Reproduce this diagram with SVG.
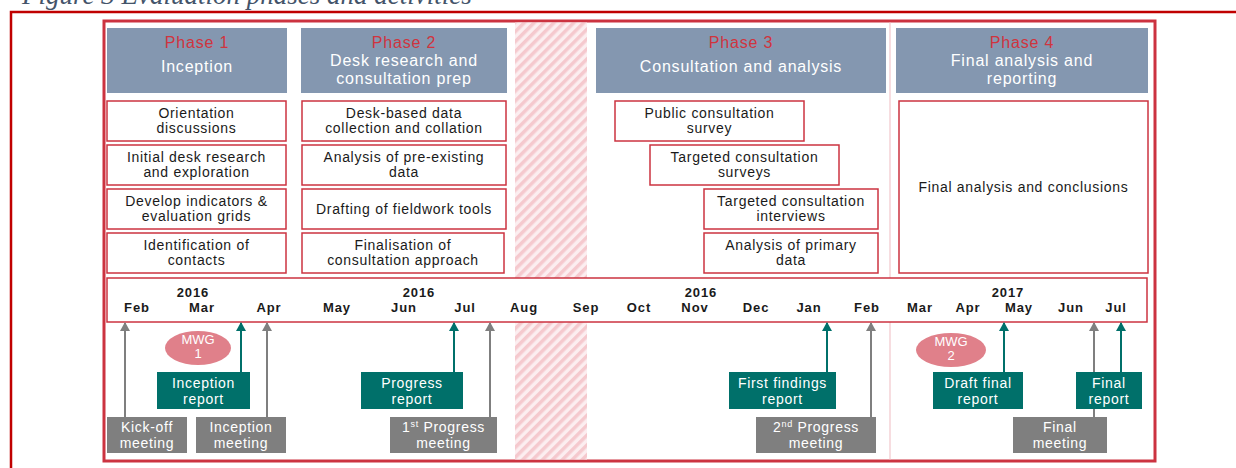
<svg xmlns="http://www.w3.org/2000/svg" width="1236" height="468" viewBox="0 0 1236 468">
<defs>
<pattern id="hatch" patternUnits="userSpaceOnUse" width="7" height="7" patternTransform="rotate(45)">
<rect width="7" height="7" fill="#FCEEF0"/>
<rect width="3.5" height="7" fill="#F5C9CE"/>
</pattern>
<marker id="ahGray" markerWidth="9" markerHeight="10" refX="8" refY="5" orient="auto" markerUnits="userSpaceOnUse" viewBox="0 0 9 10">
<path d="M0,0 L9,5 L0,10 Z" fill="#7F7F7F"/>
</marker>
<marker id="ahTeal" markerWidth="9" markerHeight="10" refX="8" refY="5" orient="auto" markerUnits="userSpaceOnUse" viewBox="0 0 9 10">
<path d="M0,0 L9,5 L0,10 Z" fill="#00706A"/>
</marker>
</defs>
<style>
.title{font-family:"Liberation Serif",serif;font-style:italic;font-size:27px;fill:#44546A}
.ph{fill:#8497B0}
.phn{font-family:"Liberation Sans",Arial,sans-serif;font-size:16px;fill:#D0343E;text-anchor:middle;letter-spacing:0.8px}
.pht{font-family:"Liberation Sans",Arial,sans-serif;font-size:16px;fill:#FFFFFF;text-anchor:middle;letter-spacing:0.8px}
.act{fill:#FFFFFF;stroke:#CC3340;stroke-width:1.5}
.at{font-family:"Liberation Sans",Arial,sans-serif;font-size:14px;fill:#1A1A1A;text-anchor:middle;letter-spacing:0.7px}
.mon{font-family:"Liberation Sans",Arial,sans-serif;font-size:13px;font-weight:bold;fill:#1A1A1A;text-anchor:middle;letter-spacing:0.9px}
.teal{fill:#00706A}
.gray{fill:#7F7F7F}
.bt{font-family:"Liberation Sans",Arial,sans-serif;font-size:14px;fill:#FFFFFF;text-anchor:middle;letter-spacing:0.7px}
.mwg{fill:#E0808A}
.mt{font-family:"Liberation Sans",Arial,sans-serif;font-size:13px;fill:#FFFFFF;text-anchor:middle}
.ag{stroke:#7F7F7F;stroke-width:2;fill:none;marker-end:url(#ahGray)}
.at2{stroke:#00706A;stroke-width:2;fill:none;marker-end:url(#ahTeal)}
</style>
<rect width="1236" height="468" fill="#FFFFFF"/>
<text class="title" x="22" y="4">Figure 3 Evaluation phases and activities</text>
<path d="M11,470 L11,12 L1236,12" fill="none" stroke="#C00000" stroke-width="2.5"/>
<rect x="104" y="21" width="1051" height="440" fill="#FFFFFF" stroke="#CC3340" stroke-width="3"/>
<rect x="515" y="22.5" width="72" height="437" fill="url(#hatch)"/>
<line x1="890" y1="22.5" x2="890" y2="459.5" stroke="#F2C6CB" stroke-width="1.2"/>

<g id="phase1"><rect class="ph" x="107" y="28" width="180" height="65"/><text class="phn" x="197" y="48">Phase 1</text><text class="pht" x="197" y="72">Inception</text></g>
<g id="phase2"><rect class="ph" x="301" y="28" width="206" height="65"/><text class="phn" x="404" y="48">Phase 2</text><text class="pht" x="404" y="66">Desk research and</text><text class="pht" x="404" y="84">consultation prep</text></g>
<g id="phase3"><rect class="ph" x="596" y="28" width="290" height="65"/><text class="phn" x="741" y="48">Phase 3</text><text class="pht" x="741" y="72">Consultation and analysis</text></g>
<g id="phase4"><rect class="ph" x="896" y="28" width="252" height="65"/><text class="phn" x="1022" y="48">Phase 4</text><text class="pht" x="1022" y="66">Final analysis and</text><text class="pht" x="1022" y="84">reporting</text></g>

<g id="a1"><rect class="act" x="107" y="101" width="179" height="40"/><text class="at" x="196.5" y="118">Orientation</text><text class="at" x="196.5" y="133">discussions</text></g>
<g id="a2"><rect class="act" x="107" y="145" width="179" height="40"/><text class="at" x="196.5" y="162">Initial desk research</text><text class="at" x="196.5" y="177">and exploration</text></g>
<g id="a3"><rect class="act" x="107" y="189" width="179" height="40"/><text class="at" x="196.5" y="206">Develop indicators &amp;</text><text class="at" x="196.5" y="221">evaluation grids</text></g>
<g id="a4"><rect class="act" x="107" y="233" width="179" height="40"/><text class="at" x="196.5" y="250">Identification of</text><text class="at" x="196.5" y="265">contacts</text></g>
<g id="b1"><rect class="act" x="302" y="101" width="204" height="40"/><text class="at" x="404" y="118">Desk-based data</text><text class="at" x="404" y="133">collection and collation</text></g>
<g id="b2"><rect class="act" x="302" y="145" width="204" height="40"/><text class="at" x="404" y="162">Analysis of pre-existing</text><text class="at" x="404" y="177">data</text></g>
<g id="b3"><rect class="act" x="302" y="189" width="204" height="40"/><text class="at" x="404" y="214">Drafting of fieldwork tools</text></g>
<g id="b4"><rect class="act" x="302" y="233" width="202" height="40"/><text class="at" x="403" y="250">Finalisation of</text><text class="at" x="403" y="265">consultation approach</text></g>
<g id="c1"><rect class="act" x="615" y="101" width="189" height="40"/><text class="at" x="709.5" y="118">Public consultation</text><text class="at" x="709.5" y="133">survey</text></g>
<g id="c2"><rect class="act" x="650" y="145" width="189" height="40"/><text class="at" x="744.5" y="162">Targeted consultation</text><text class="at" x="744.5" y="177">surveys</text></g>
<g id="c3"><rect class="act" x="704" y="189" width="174" height="40"/><text class="at" x="791" y="206">Targeted consultation</text><text class="at" x="791" y="221">interviews</text></g>
<g id="c4"><rect class="act" x="704" y="233" width="174" height="40"/><text class="at" x="791" y="250">Analysis of primary</text><text class="at" x="791" y="265">data</text></g>
<g id="d1"><rect class="act" x="899" y="101" width="249" height="172"/><text class="at" x="1023.5" y="192">Final analysis and conclusions</text></g>

<g id="timeline">
<rect x="107" y="278" width="1040" height="44" fill="#FFFFFF" stroke="#CC3340" stroke-width="1.5"/>
<text class="mon" x="193" y="297">2016</text>
<text class="mon" x="419" y="297">2016</text>
<text class="mon" x="701" y="297">2016</text>
<text class="mon" x="1008" y="297">2017</text>
<text class="mon" x="137" y="312">Feb</text>
<text class="mon" x="202" y="312">Mar</text>
<text class="mon" x="269" y="312">Apr</text>
<text class="mon" x="337" y="312">May</text>
<text class="mon" x="404" y="312">Jun</text>
<text class="mon" x="465" y="312">Jul</text>
<text class="mon" x="524" y="312">Aug</text>
<text class="mon" x="586" y="312">Sep</text>
<text class="mon" x="639" y="312">Oct</text>
<text class="mon" x="695" y="312">Nov</text>
<text class="mon" x="756" y="312">Dec</text>
<text class="mon" x="809" y="312">Jan</text>
<text class="mon" x="867" y="312">Feb</text>
<text class="mon" x="920" y="312">Mar</text>
<text class="mon" x="968" y="312">Apr</text>
<text class="mon" x="1019" y="312">May</text>
<text class="mon" x="1071" y="312">Jun</text>
<text class="mon" x="1116" y="312">Jul</text>
</g>

<g id="connectors">
<line class="ag" x1="125" y1="417" x2="125" y2="323"/>
<line class="ag" x1="267" y1="417" x2="267" y2="323"/>
<line class="ag" x1="490" y1="417" x2="490" y2="323"/>
<line class="ag" x1="871" y1="417" x2="871" y2="323"/>
<line class="ag" x1="1094" y1="417" x2="1094" y2="323"/>
<line class="at2" x1="241" y1="372" x2="241" y2="323"/>
<line class="at2" x1="454" y1="372" x2="454" y2="323"/>
<line class="at2" x1="827" y1="372" x2="827" y2="323"/>
<line class="at2" x1="1004" y1="372" x2="1004" y2="323"/>
<line class="at2" x1="1121" y1="372" x2="1121" y2="323"/>
</g>

<g id="mwg1"><ellipse class="mwg" cx="198" cy="348" rx="33" ry="17"/><text class="mt" x="198" y="344">MWG</text><text class="mt" x="198" y="358">1</text></g>
<g id="mwg2"><ellipse class="mwg" cx="951" cy="350" rx="35" ry="17"/><text class="mt" x="951" y="346">MWG</text><text class="mt" x="951" y="360">2</text></g>

<g id="r1"><rect class="teal" x="157" y="372" width="93" height="37"/><text class="bt" x="203.5" y="388">Inception</text><text class="bt" x="203.5" y="404">report</text></g>
<g id="r2"><rect class="teal" x="361" y="372" width="102" height="37"/><text class="bt" x="412" y="388">Progress</text><text class="bt" x="412" y="404">report</text></g>
<g id="r3"><rect class="teal" x="729" y="372" width="107" height="37"/><text class="bt" x="782.5" y="388">First findings</text><text class="bt" x="782.5" y="404">report</text></g>
<g id="r4"><rect class="teal" x="933" y="372" width="90" height="37"/><text class="bt" x="978" y="388">Draft final</text><text class="bt" x="978" y="404">report</text></g>
<g id="r5"><rect class="teal" x="1076" y="372" width="66" height="37"/><text class="bt" x="1109" y="388">Final</text><text class="bt" x="1109" y="404">report</text></g>

<g id="m1"><rect class="gray" x="107" y="417" width="80" height="36"/><text class="bt" x="147" y="432">Kick-off</text><text class="bt" x="147" y="448">meeting</text></g>
<g id="m2"><rect class="gray" x="196" y="417" width="90" height="36"/><text class="bt" x="241" y="432">Inception</text><text class="bt" x="241" y="448">meeting</text></g>
<g id="m3"><rect class="gray" x="390" y="417" width="107" height="36"/><text class="bt" x="443.5" y="432">1<tspan font-size="9" dy="-5">st</tspan><tspan dy="5"> Progress</tspan></text><text class="bt" x="443.5" y="448">meeting</text></g>
<g id="m4"><rect class="gray" x="756" y="417" width="120" height="36"/><text class="bt" x="816" y="432">2<tspan font-size="9" dy="-5">nd</tspan><tspan dy="5"> Progress</tspan></text><text class="bt" x="816" y="448">meeting</text></g>
<g id="m5"><rect class="gray" x="1013" y="417" width="94" height="36"/><text class="bt" x="1060" y="432">Final</text><text class="bt" x="1060" y="448">meeting</text></g>
</svg>
